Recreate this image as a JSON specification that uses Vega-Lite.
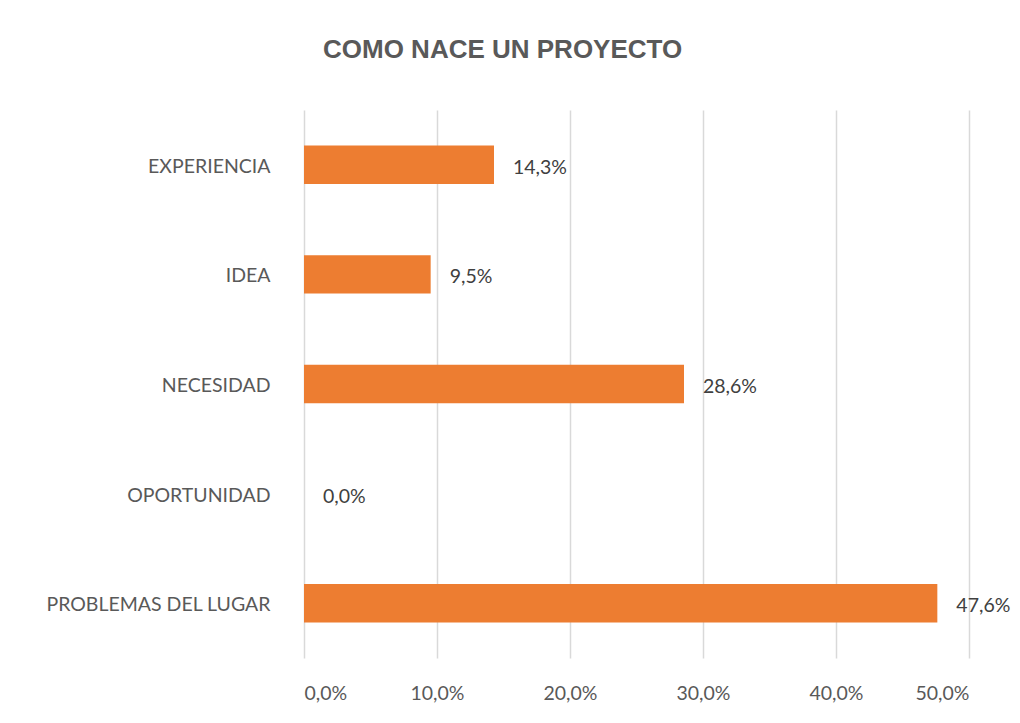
{
  "$schema": "https://vega.github.io/schema/vega-lite/v6.json",
  "autosize": "none",
  "width": 665,
  "height": 548,
  "padding": {"left": 304, "top": 110, "right": 51, "bottom": 65},
  "background": "white",
  "title": {
    "text": "COMO NACE UN PROYECTO",
    "anchor": "start",
    "frame": "group",
    "dx": 19,
    "offset": 47,
    "font": "Liberation Sans",
    "fontSize": 26,
    "fontWeight": "bold",
    "color": "#595959"
  },
  "config": {
    "locale": {"number": {"decimal": ",", "thousands": ".", "grouping": [3], "currency": ["", " €"]}},
    "view": {"stroke": null},
    "axis": {"labelFont": "Lato", "labelFontSize": 19.5, "labelColor": "#595959", "labelLimit": 0, "ticks": false, "domain": false, "title": null}
  },
  "data": {
    "values": [
      {"categoria": "EXPERIENCIA", "valor": 0.142857},
      {"categoria": "IDEA", "valor": 0.095238},
      {"categoria": "NECESIDAD", "valor": 0.285714},
      {"categoria": "OPORTUNIDAD", "valor": 0.0},
      {"categoria": "PROBLEMAS DEL LUGAR", "valor": 0.476190}
    ]
  },
  "encoding": {
    "y": {
      "field": "categoria",
      "type": "nominal",
      "sort": null,
      "scale": {"paddingInner": 0.65, "paddingOuter": 0.325},
      "axis": {"labelPadding": 34, "labelOffset": 2, "grid": false}
    },
    "x": {
      "field": "valor",
      "type": "quantitative",
      "scale": {"domain": [0, 0.5]},
      "axis": {"format": ".1%", "values": [0, 0.1, 0.2, 0.3, 0.4, 0.5], "grid": true, "gridColor": "#d9d9d9", "gridWidth": 1.5, "labelPadding": 26, "labelBaseline": "top"}
    }
  },
  "layer": [
    {"mark": {"type": "bar", "color": "#ED7D31"}},
    {
      "mark": {"type": "text", "align": "left", "baseline": "middle", "dx": 19, "dy": 3, "font": "Lato", "fontSize": 19.5, "color": "#404040"},
      "encoding": {"text": {"field": "valor", "type": "quantitative", "format": ".1%"}}
    }
  ]
}
